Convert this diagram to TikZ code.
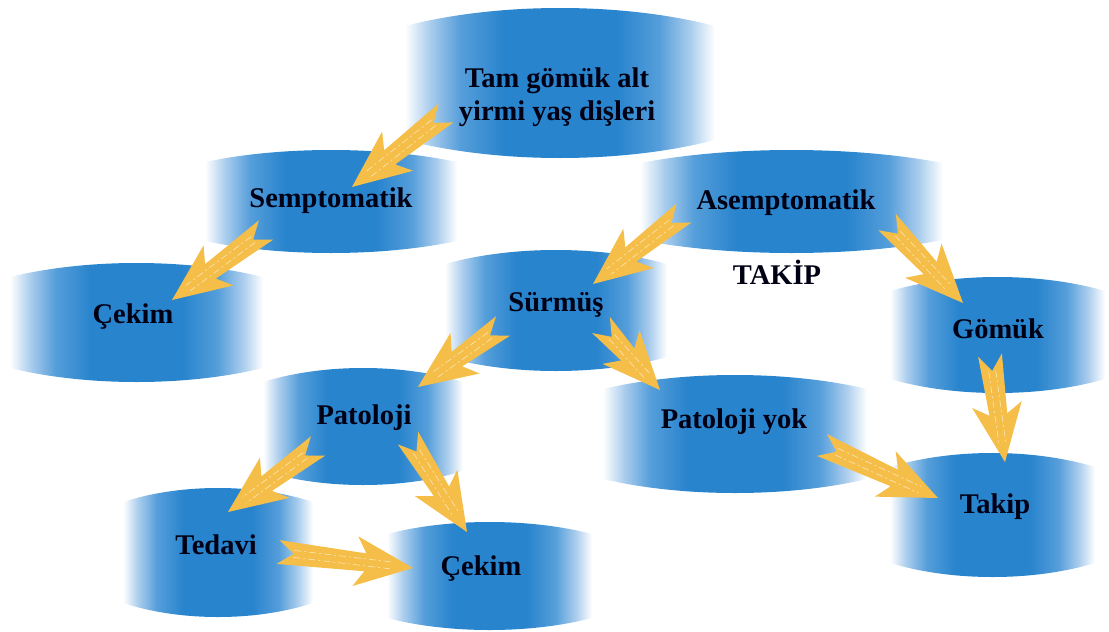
\documentclass[tikz,border=0pt]{standalone}
\usepackage{fontspec}
\setmainfont{Liberation Serif}
\usetikzlibrary{calc}
\definecolor{bluemain}{RGB}{40,132,205}
\definecolor{bluemid}{RGB}{85,158,218}
\definecolor{bluelt}{RGB}{170,205,237}
\definecolor{arrowyel}{RGB}{244,190,72}
\pgfdeclarehorizontalshading{blobsh}{100bp}{color(0bp)=(white); color(25bp)=(white); color(29bp)=(bluelt); color(34bp)=(bluemid); color(41bp)=(bluemain); color(59bp)=(bluemain); color(66bp)=(bluemid); color(71bp)=(bluelt); color(75bp)=(white); color(100bp)=(white)}
\tikzset{
  blobfill/.style={shading=blobsh},
  lbl/.style={font=\bfseries\fontsize{28.5}{33}\selectfont, text=black!92!blue, align=center, inner sep=0pt},
  arrowfill/.style={fill=arrowyel},
  arrowtex/.style={draw=white, opacity=0.55, line width=0.7pt, dash pattern=on 7pt off 3pt on 2pt off 3pt},
}
\newcommand\blobshape[5]{%
  \shade[blobfill] (#1,#2+#5) .. controls (#1+0.3*#3-0.3*#1,#2-#5/3) and (#3-0.3*#3+0.3*#1,#2-#5/3) .. (#3,#2+#5)
    -- (#3,#4-#5) .. controls (#3-0.3*#3+0.3*#1,#4+#5/3) and (#1+0.3*#3-0.3*#1,#4+#5/3) .. (#1,#4-#5) -- cycle;}
\newcommand\fatarrow[2]{%
  \coordinate (fa-h) at ($(#2)!48pt!(#1)$);
  \coordinate (fa-b) at ($(#2)!58pt!(#1)$);
  \coordinate (fa-n) at ($(#1)!16pt!(#2)$);
  \coordinate (fa-m) at ($(#2)!20pt!(#1)$);
  \fill[arrowfill] ($(#1)!12pt!90:(#2)$) -- (fa-n) -- ($(#1)!12pt!-90:(#2)$)
     -- ($(fa-h)!9pt!-90:(#2)$) -- ($(fa-b)!25pt!-90:(#2)$) -- (#2)
     -- ($(fa-b)!25pt!90:(#2)$) -- ($(fa-h)!9pt!90:(#2)$) -- cycle;
  \draw[arrowtex] ($(fa-n)!3.5pt!90:(#2)$) -- ($(fa-m)!3.5pt!90:(#2)$);
  \draw[arrowtex] ($(fa-n)!3.5pt!-90:(#2)$) -- ($(fa-m)!3.5pt!-90:(#2)$);}
\begin{document}
\begin{tikzpicture}[x=1pt,y=-1pt]
\useasboundingbox (0,0) rectangle (1109,632);
% blobs
\blobshape{405}{8}{715}{158}{18}
\blobshape{205}{150}{457}{253}{12}
\blobshape{640}{150}{943}{253}{13}
\blobshape{10}{263}{263}{382}{14}
\blobshape{445}{250}{667}{371}{14}
\blobshape{890}{277}{1105}{393}{14}
\blobshape{263}{368}{463}{485}{14}
\blobshape{603}{375}{867}{493}{14}
\blobshape{890}{453}{1095}{577}{14}
\blobshape{123}{488}{313}{617}{14}
\blobshape{387}{522}{592}{630}{12}
% text nodes
\node[lbl] (top) at (557,97) {Tam gömük alt\\yirmi yaş dişleri};
\node[lbl] (semp) at (331,201) {Semptomatik};
\node[lbl] (asemp) at (786,203) {Asemptomatik};
\node[lbl] (takiptxt) at (777,272) {TAKİP};
\node[lbl] (cekim1) at (133,317) {Çekim};
\node[lbl] (surmus) at (556,305) {Sürmüş};
\node[lbl] (gomuk) at (998,329) {Gömük};
\node[lbl] (pat) at (364,418) {Patoloji};
\node[lbl] (patyok) at (734,422) {Patoloji yok};
\node[lbl] (takip) at (995,507) {Takip};
\node[lbl] (tedavi) at (216,545) {Tedavi};
\node[lbl] (cekim2) at (481,569) {Çekim};
% arrow end points
\coordinate (a1s) at (446,113); \coordinate (a1e) at (352,187);
\coordinate (a2s) at (266,230); \coordinate (a2e) at (172,300);
\coordinate (a3s) at (684,213); \coordinate (a3e) at (593,284);
\coordinate (a4s) at (887,222); \coordinate (a4e) at (963,303);
\coordinate (a5s) at (503,326); \coordinate (a5e) at (418,387);
\coordinate (a6s) at (601,325); \coordinate (a6e) at (660,390);
\coordinate (a7s) at (318,446); \coordinate (a7e) at (228,512);
\coordinate (a8s) at (408,438); \coordinate (a8e) at (467,532);
\coordinate (a9s) at (278,552); \coordinate (a9e) at (413,568);
\coordinate (a10s) at (822,445); \coordinate (a10e) at (938,498);
\coordinate (a11s) at (990,355); \coordinate (a11e) at (1005,462);
\fatarrow{a1s}{a1e}
\fatarrow{a2s}{a2e}
\fatarrow{a3s}{a3e}
\fatarrow{a4s}{a4e}
\fatarrow{a5s}{a5e}
\fatarrow{a6s}{a6e}
\fatarrow{a7s}{a7e}
\fatarrow{a8s}{a8e}
\fatarrow{a9s}{a9e}
\fatarrow{a10s}{a10e}
\fatarrow{a11s}{a11e}
\end{tikzpicture}
\end{document}
